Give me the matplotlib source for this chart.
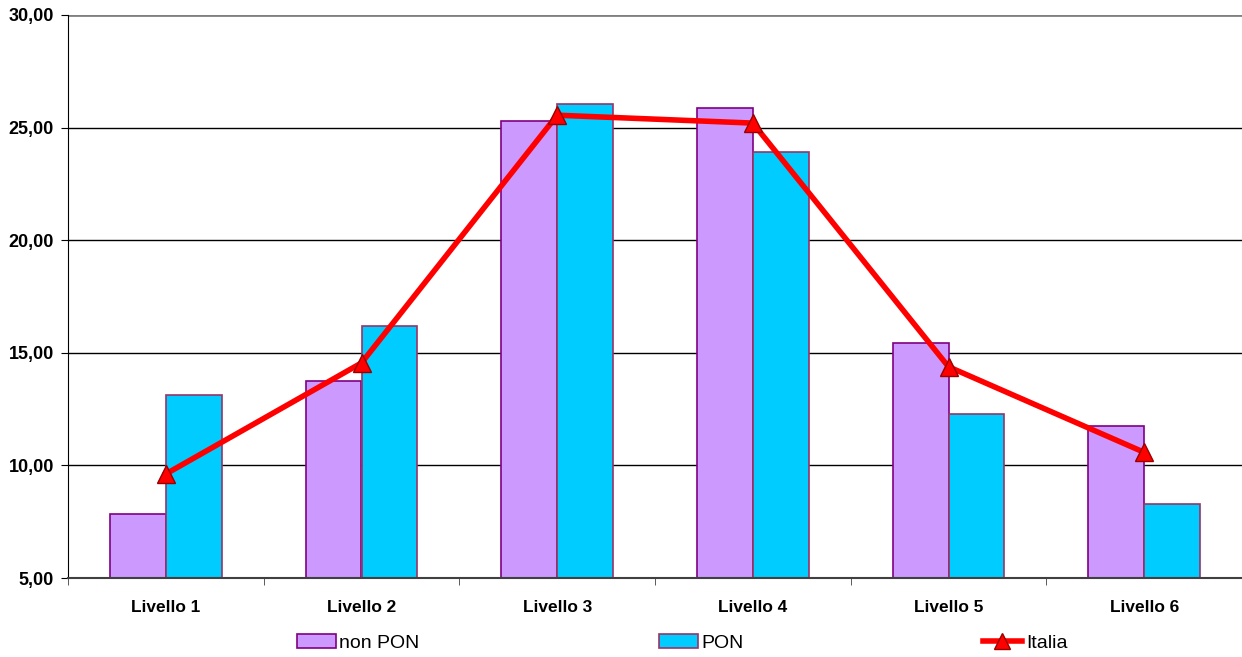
import matplotlib
matplotlib.use('Agg')
import matplotlib.pyplot as plt
import numpy as np
from matplotlib.lines import Line2D
from matplotlib.patches import Patch

# dati
livelli = ['Livello 1', 'Livello 2', 'Livello 3', 'Livello 4', 'Livello 5', 'Livello 6']
non_pon = [7.84, 13.75, 25.30, 25.85, 15.43, 11.75]
pon = [13.13, 16.20, 26.05, 23.92, 12.28, 8.30]
italia = [9.62, 14.55, 25.55, 25.20, 14.38, 10.58]
yticks = [5, 10, 15, 20, 25, 30]

plt.rcParams['font.family'] = ['Liberation Sans', 'DejaVu Sans']

fig = plt.figure(figsize=(12.42, 6.57), dpi=100)
ax = fig.add_axes([68 / 1242, 1 - 578 / 657, 1 - 68 / 1242, (578 - 15) / 657])

x = np.arange(len(livelli))
w = 0.286

ax.bar(x - w / 2, non_pon, w, color='#CC99FF', edgecolor='#800080',
       linewidth=1.2, zorder=2)
ax.bar(x + w / 2, pon, w, color='#00CCFF', edgecolor='#993366',
       linewidth=1.2, zorder=2)
ax.plot(x, italia, color='#FF0000', linewidth=4, marker='^', markersize=13,
        markerfacecolor='#FF0000', markeredgecolor='#990000', markeredgewidth=1,
        zorder=3)

ax.set_ylim(5, 30)
ax.set_xlim(-0.5, len(livelli) - 0.5)
ax.set_yticks(yticks)
ax.set_yticklabels([f'{v:.2f}'.replace('.', ',') for v in yticks],
                   fontsize=13, fontweight='bold')
ax.set_xticks(x)
ax.set_xticklabels(livelli, fontsize=12.4, fontweight='bold')
ax.tick_params(axis='x', length=0, pad=16)
ax.set_xticks(np.arange(-0.5, len(livelli), 1), minor=True)
ax.tick_params(axis='x', which='minor', length=5, color='#404040')
ax.tick_params(axis='y', length=5, color='black', pad=5)

for v in yticks[1:-1]:
    ax.axhline(v, color='black', linewidth=1, zorder=1)
ax.axhline(30, color='#808080', linewidth=2, zorder=1)

ax.spines['right'].set_visible(False)
ax.spines['top'].set_visible(False)
ax.spines['left'].set_color('black')
ax.spines['bottom'].set_color('#404040')
ax.spines['bottom'].set_linewidth(1.5)

handles = [
    Patch(facecolor='#CC99FF', edgecolor='#800080', linewidth=1.2),
    Patch(facecolor='#00CCFF', edgecolor='#993366', linewidth=1.2),
    Line2D([], [], color='#FF0000', linewidth=4, marker='^', markersize=11,
           markeredgecolor='#990000'),
]
fig.legend(handles, ['non PON', 'PON', 'Italia'], loc='center',
           bbox_to_anchor=(682 / 1242, 1 - 643 / 657), ncol=3, frameon=False,
           fontsize=14, columnspacing=12.3, handlelength=2.0, handletextpad=0.2,
           handleheight=0.7)

plt.savefig('out.png', dpi=100)
plt.close()
